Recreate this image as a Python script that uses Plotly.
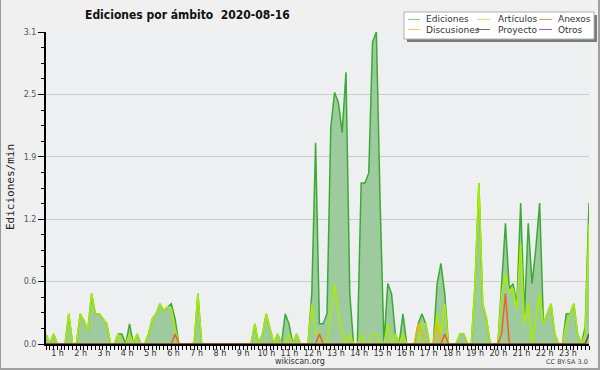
import plotly.graph_objects as go

# ---------------- data (10-minute slots, Ediciones/min) ----------------
slot_minutes = [10 * i for i in range(144)]

ediciones = [
    0.1, 0, 0.1, 0, 0, 0, 0.3, 0, 0, 0.3, 0.23, 0.13,
    0.5, 0.3, 0.3, 0.25, 0.2, 0, 0, 0.1, 0.1, 0, 0.2, 0,
    0.1, 0, 0, 0.1, 0.25, 0.3, 0.4, 0.33, 0.37, 0.4, 0.25, 0,
    0, 0, 0, 0, 0.5, 0, 0, 0, 0, 0, 0, 0,
    0, 0, 0, 0, 0, 0, 0, 0.2, 0, 0.1, 0.3, 0.15,
    0, 0.1, 0, 0.3, 0.2, 0, 0.1, 0, 0, 0, 0.5, 2.0,
    0.2, 0.2, 0.3, 2.15, 2.5, 2.4, 2.1, 2.7, 0.5, 0, 0, 1.6,
    1.6, 1.7, 3.0, 3.1, 1.4, 0, 0.6, 0.5, 0.1, 0, 0.3, 0,
    0, 0, 0.2, 0.3, 0.2, 0, 0, 0.6, 0.8, 0.5, 0, 0,
    0, 0.1, 0.1, 0, 0, 0.6, 1.6, 0.4, 0.25, 0, 0, 0,
    0.6, 1.2, 0.55, 0.6, 0.4, 1.4, 0.3, 1.2, 0.6, 0.95, 1.4, 0.2,
    0.3, 0.4, 0.1, 0, 0, 0.3, 0.3, 0.4, 0.1, 0, 0.17, 1.4,
]

articulos = [
    0.1, 0, 0.1, 0, 0, 0, 0.3, 0, 0, 0.3, 0.23, 0.13,
    0.5, 0.3, 0.3, 0.25, 0.2, 0, 0, 0.1, 0, 0, 0.1, 0,
    0.1, 0, 0, 0.1, 0.25, 0.3, 0.4, 0.33, 0.37, 0.35, 0.15, 0,
    0, 0, 0, 0, 0.5, 0, 0, 0, 0, 0, 0, 0,
    0, 0, 0, 0, 0, 0, 0, 0.2, 0, 0.1, 0.3, 0.15,
    0, 0.1, 0, 0, 0.1, 0, 0.1, 0, 0, 0, 0.4, 0.1,
    0.1, 0, 0, 0.3, 0.6, 0.3, 0.1, 0, 0.1, 0, 0, 0.1,
    0, 0, 0.1, 0.1, 0, 0, 0.2, 0, 0.1, 0, 0.1, 0,
    0, 0, 0, 0.2, 0.2, 0, 0, 0.3, 0.1, 0.4, 0, 0,
    0, 0.1, 0.1, 0, 0, 0.6, 1.6, 0.4, 0.25, 0, 0, 0,
    0.5, 0.7, 0.5, 0.55, 0.35, 1.0, 0.2, 0.4, 0, 0.25, 0.5, 0.2,
    0.3, 0.4, 0.1, 0, 0, 0.2, 0.3, 0.4, 0.1, 0, 0.1, 1.2,
]

anexos = [
    0, 0, 0, 0, 0, 0, 0, 0, 0, 0, 0, 0,
    0, 0, 0, 0, 0, 0, 0, 0, 0, 0, 0, 0,
    0, 0, 0, 0, 0, 0, 0, 0, 0, 0, 0.1, 0,
    0, 0, 0, 0, 0, 0, 0, 0, 0, 0, 0, 0,
    0, 0, 0, 0, 0, 0, 0, 0, 0, 0, 0, 0,
    0, 0, 0, 0, 0, 0, 0, 0, 0, 0, 0, 0,
    0.1, 0, 0, 0, 0, 0, 0, 0, 0, 0, 0, 0,
    0, 0, 0, 0, 0, 0, 0, 0, 0, 0, 0, 0,
    0, 0, 0, 0, 0, 0, 0, 0, 0, 0.1, 0, 0,
    0, 0, 0, 0, 0, 0, 0, 0, 0, 0, 0, 0,
    0.1, 0.5, 0, 0, 0, 0, 0, 0, 0, 0, 0, 0,
    0, 0, 0, 0, 0, 0, 0, 0, 0, 0, 0, 0,
]

discusiones = [
    0, 0, 0, 0, 0, 0, 0, 0, 0, 0, 0, 0,
    0, 0, 0, 0, 0, 0, 0, 0, 0, 0, 0, 0,
    0, 0, 0, 0, 0, 0, 0, 0, 0, 0, 0, 0,
    0, 0, 0, 0, 0, 0, 0, 0, 0, 0, 0, 0,
    0, 0, 0, 0, 0, 0, 0, 0, 0, 0, 0, 0,
    0, 0, 0, 0, 0, 0, 0, 0, 0, 0, 0, 0,
    0, 0, 0, 0, 0, 0, 0, 0, 0, 0, 0, 0,
    0, 0, 0, 0, 0, 0, 0, 0, 0, 0, 0, 0,
    0, 0, 0.2, 0.1, 0, 0, 0, 0.2, 0, 0, 0, 0,
    0, 0, 0, 0, 0, 0, 0, 0, 0, 0, 0, 0,
    0, 0, 0, 0, 0, 0, 0, 0, 0, 0, 0, 0,
    0, 0, 0, 0, 0, 0, 0, 0, 0, 0, 0, 0,
]

proyecto = [
    0, 0, 0, 0, 0, 0, 0, 0, 0, 0, 0, 0,
    0, 0, 0, 0, 0, 0, 0, 0, 0, 0, 0, 0,
    0, 0, 0, 0, 0, 0, 0, 0, 0, 0, 0, 0,
    0, 0, 0, 0, 0, 0, 0, 0, 0, 0, 0, 0,
    0, 0, 0, 0, 0, 0, 0, 0, 0, 0, 0, 0,
    0, 0, 0, 0, 0, 0, 0, 0, 0, 0, 0, 0,
    0, 0, 0, 0, 0, 0, 0, 0, 0, 0, 0, 0,
    0, 0, 0, 0, 0, 0, 0, 0, 0, 0, 0, 0,
    0, 0, 0, 0, 0, 0, 0, 0, 0, 0, 0, 0,
    0, 0, 0, 0, 0, 0, 0, 0, 0, 0, 0, 0,
    0, 0, 0, 0, 0, 0, 0, 0, 0, 0, 0, 0,
    0, 0, 0, 0, 0, 0, 0, 0, 0, 0, 0, 0.1,
]

otros = [
    0, 0, 0, 0, 0, 0, 0, 0, 0, 0, 0, 0,
    0, 0, 0, 0, 0, 0, 0, 0, 0, 0, 0, 0,
    0, 0, 0, 0, 0, 0, 0, 0, 0, 0, 0, 0,
    0, 0, 0, 0, 0, 0, 0, 0, 0, 0, 0, 0,
    0, 0, 0, 0, 0, 0, 0, 0, 0, 0, 0, 0,
    0, 0, 0, 0, 0, 0, 0, 0, 0, 0, 0, 0,
    0, 0, 0, 0, 0, 0, 0, 0, 0, 0, 0, 0,
    0, 0, 0, 0, 0, 0, 0, 0, 0, 0, 0, 0,
    0, 0, 0, 0, 0, 0, 0, 0, 0, 0, 0, 0,
    0, 0, 0, 0, 0, 0, 0, 0, 0, 0, 0, 0,
    0, 0, 0, 0, 0, 0, 0, 0, 0, 0, 0, 0,
    0, 0, 0, 0, 0, 0, 0, 0, 0, 0, 0, 0,
]

hour_labels = ["1 h", "2 h", "3 h", "4 h", "5 h", "6 h", "7 h", "8 h", "9 h", "10 h",
               "11 h", "12 h", "13 h", "14 h", "15 h", "16 h", "17 h", "18 h", "19 h",
               "20 h", "21 h", "22 h", "23 h"]
hour_label_pos = [61.1 * (k + 1) - 30.8 for k in range(len(hour_labels))]

y_tick_vals = [0, 0.62, 1.24, 1.86, 2.48, 3.1]
y_tick_text = ["0.0", "0.6", "1.2", "1.9", "2.5", "3.1"]

series_names = ["Ediciones", "Artículos", "Anexos", "Discusiones", "Proyecto", "Otros"]
series_colors = ["#3aaa35", "#a8ec00", "#f06020", "#f5b400", "#6b4a2a", "#8a4de8"]
legend_colors = ["#86d486", "#cdef5a", "#f59060", "#f8cc50", "#6a6a6a", "#9a5ce8"]

# ---------------- figure ----------------
W, H = 600, 370
L, R, T, B = 46, 11, 32, 26
PW, PH = W - L - R, H - T - B


def px(x):
    return (x - L) / PW


def py(y):
    return (H - B - y) / PH


fig = go.Figure()

fig.add_trace(go.Scatter(
    x=slot_minutes, y=ediciones, mode="lines", name=series_names[0],
    line=dict(color=series_colors[0], width=1.5), fill="tozeroy",
    fillcolor="#9ecb9e", showlegend=False))
fig.add_trace(go.Scatter(
    x=slot_minutes, y=articulos, mode="lines", name=series_names[1],
    line=dict(color=series_colors[1], width=1.6), showlegend=False))
fig.add_trace(go.Scatter(
    x=slot_minutes, y=discusiones, mode="lines", name=series_names[3],
    line=dict(color=series_colors[3], width=1.5), showlegend=False))
fig.add_trace(go.Scatter(
    x=slot_minutes, y=anexos, mode="lines", name=series_names[2],
    line=dict(color=series_colors[2], width=1.5), showlegend=False))
fig.add_trace(go.Scatter(
    x=slot_minutes, y=proyecto, mode="lines", name=series_names[4],
    line=dict(color=series_colors[4], width=1.5), showlegend=False))
fig.add_trace(go.Scatter(
    x=slot_minutes, y=otros, mode="lines", name=series_names[5],
    line=dict(color=series_colors[5], width=1.2), opacity=0, showlegend=False))

shapes = []
annotations = []

# outer frame (left, right, bottom)
shapes.append(dict(type="line", xref="paper", yref="paper", x0=px(0.5), x1=px(0.5),
                   y0=py(0), y1=py(370), line=dict(color="#9a9a9a", width=1)))
shapes.append(dict(type="rect", xref="paper", yref="paper", x0=px(598), x1=px(600),
                   y0=py(0), y1=py(370), line=dict(width=0), fillcolor="#a0a0a0"))
shapes.append(dict(type="rect", xref="paper", yref="paper", x0=px(0), x1=px(600),
                   y0=py(368), y1=py(370), line=dict(width=0), fillcolor="#a0a0a0"))

# legend box with shadow
shapes.append(dict(type="rect", xref="paper", yref="paper", x0=px(407), x1=px(597),
                   y0=py(42), y1=py(15), line=dict(width=0), fillcolor="#7a7a7a"))
shapes.append(dict(type="rect", xref="paper", yref="paper", x0=px(404), x1=px(594),
                   y0=py(39), y1=py(12), line=dict(color="#b0b0b0", width=1),
                   fillcolor="#ffffff"))

legend_layout = [  # (sample x0, sample x1, text x, row y)
    (408, 420, 424, 19.5), (477, 490, 496, 19.5), (539, 552, 556, 19.5),
    (408, 420, 424, 29.5), (477, 490, 496, 29.5), (539, 552, 556, 29.5),
]
legend_order = [0, 1, 2, 3, 4, 5]
for slot, idx in zip(legend_layout, legend_order):
    sx0, sx1, tx, ry = slot
    shapes.append(dict(type="line", xref="paper", yref="paper", x0=px(sx0), x1=px(sx1),
                       y0=py(ry), y1=py(ry), line=dict(color=legend_colors[idx], width=1)))
    annotations.append(dict(xref="paper", yref="paper", x=px(tx), y=py(ry),
                            xanchor="left", yanchor="middle", showarrow=False,
                            text=series_names[idx],
                            font=dict(family="DejaVu Sans", size=9, color="#333333")))

# title
annotations.append(dict(xref="paper", yref="paper", x=px(187), y=py(15),
                        xanchor="center", yanchor="middle", showarrow=False,
                        text="<b>Ediciones por ámbito \u00a02020-08-16</b>",
                        font=dict(family="DejaVu Sans Condensed, Liberation Sans Narrow, DejaVu Sans",
                                  size=12, color="#111111")))
# y title
annotations.append(dict(xref="paper", yref="paper", x=px(10), y=py(187),
                        xanchor="center", yanchor="middle", showarrow=False,
                        textangle=-90, text="Ediciones/min",
                        font=dict(family="DejaVu Sans Mono", size=11, color="#222222")))
# footer
annotations.append(dict(xref="paper", yref="paper", x=px(300), y=py(361),
                        xanchor="center", yanchor="middle", showarrow=False,
                        text="wikiscan.org",
                        font=dict(family="DejaVu Sans", size=8, color="#333333")))
annotations.append(dict(xref="paper", yref="paper", x=px(590), y=py(362),
                        xanchor="right", yanchor="middle", showarrow=False,
                        text="CC BY-SA 3.0",
                        font=dict(family="DejaVu Sans", size=6.5, color="#444444")))

fig.update_layout(
    width=W, height=H,
    margin=dict(l=L, r=R, t=T, b=B),
    paper_bgcolor="#f0f0f0",
    plot_bgcolor="#eeeff1",
    showlegend=False,
    shapes=shapes,
    annotations=annotations,
)

fig.update_xaxes(
    range=[0, 1430], showgrid=False, zeroline=False,
    showline=True, linecolor="#000000", linewidth=2,
    tickmode="array", tickvals=hour_label_pos, ticktext=hour_labels,
    ticks="", tickfont=dict(family="DejaVu Sans", size=8, color="#333333"),
    minor=dict(tickmode="linear", tick0=0, dtick=10, ticks="outside",
               ticklen=4, tickcolor="#000000", tickwidth=1, showgrid=False),
)
fig.update_yaxes(
    range=[0, 3.1], showgrid=True, gridcolor="#cccccc", gridwidth=1, zeroline=False,
    showline=True, linecolor="#000000", linewidth=2,
    tickmode="array", tickvals=y_tick_vals, ticktext=y_tick_text,
    ticks="outside", ticklen=6, tickcolor="#000000", tickwidth=1,
    tickfont=dict(family="DejaVu Sans", size=8, color="#555555"),
    minor=dict(tickmode="linear", tick0=0, dtick=0.155, ticks="outside",
               ticklen=3, tickcolor="#000000", tickwidth=1, showgrid=False),
)

fig.write_html(
    "out.html",
    config={"displayModeBar": False, "staticPlot": True},
    post_script="document.body.style.margin='0px';document.body.style.overflow='hidden';",
)
